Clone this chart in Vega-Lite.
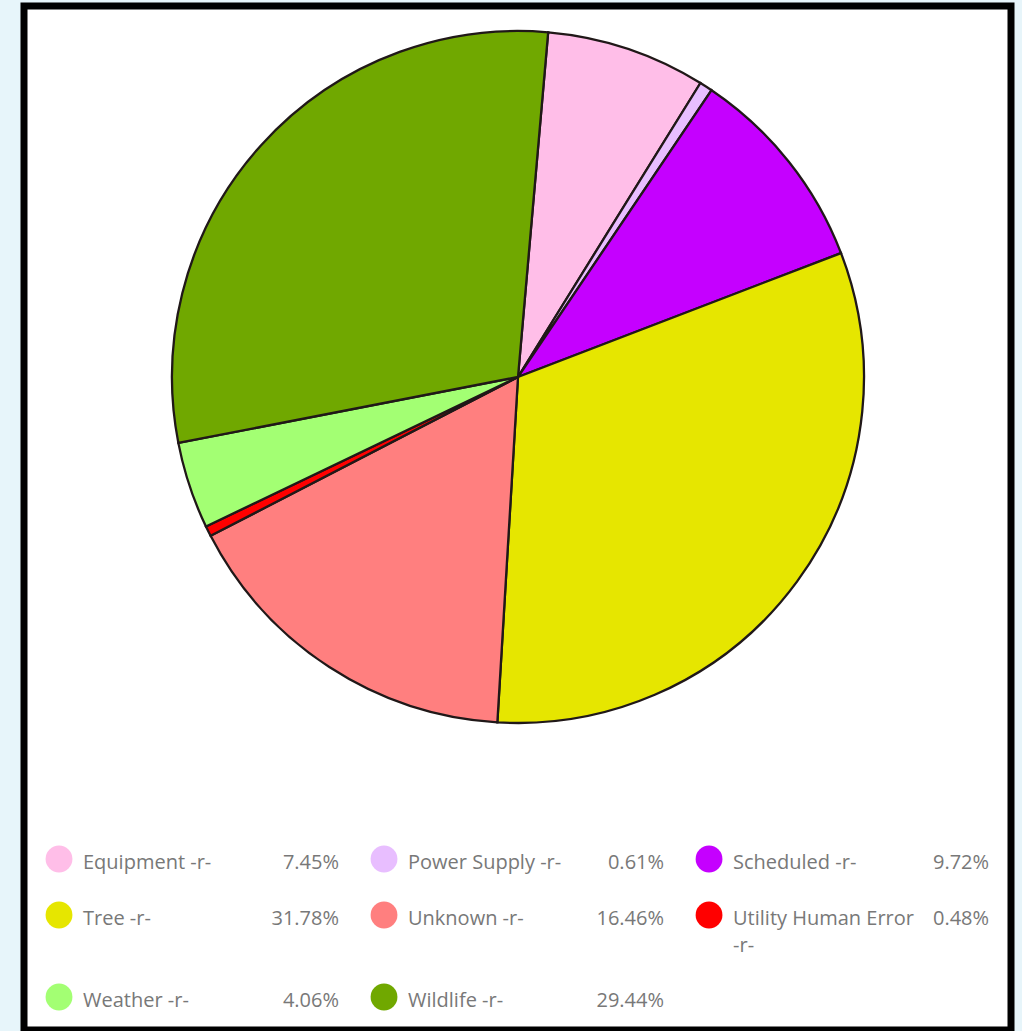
{
  "$schema": "https://vega.github.io/schema/vega-lite/v6.json",
  "width": 1022,
  "height": 1031,
  "autosize": {"type": "fit", "contains": "padding"},
  "padding": {"left": 24, "top": 6, "right": 11, "bottom": 1},
  "background": "#e7f5fa",
  "config": {"view": {"stroke": "#000000", "strokeWidth": 7, "fill": "#ffffff"}},
  "data": {"values": [
    {"i": 0, "cause": "Equipment -r-", "share": 0.0745},
    {"i": 1, "cause": "Power Supply -r-", "share": 0.0061},
    {"i": 2, "cause": "Scheduled -r-", "share": 0.0972},
    {"i": 3, "cause": "Tree -r-", "share": 0.3178},
    {"i": 4, "cause": "Unknown -r-", "share": 0.1646},
    {"i": 5, "cause": "Utility Human Error -r-", "share": 0.0048},
    {"i": 6, "cause": "Weather -r-", "share": 0.0406},
    {"i": 7, "cause": "Wildlife -r-", "share": 0.2944}
  ]},
  "layer": [
    {
      "mark": {"type": "arc", "radius": 346, "stroke": "#201818", "strokeWidth": 2.3},
      "encoding": {
        "theta": {"field": "share", "type": "quantitative", "stack": true, "scale": {"range": [0.0873, 6.3705]}},
        "order": {"field": "i", "type": "quantitative"},
        "color": {
          "field": "cause", "type": "nominal", "legend": null,
          "scale": {
            "domain": ["Equipment -r-", "Power Supply -r-", "Scheduled -r-", "Tree -r-", "Unknown -r-", "Utility Human Error -r-", "Weather -r-", "Wildlife -r-"],
            "range": ["#ffbee8", "#e8beff", "#c500ff", "#e6e600", "#ff7f7f", "#ff0000", "#a3ff73", "#70a800"]
          }
        },
        "x": {"datum": 50.05, "type": "quantitative", "scale": {"domain": [0, 100], "nice": false, "zero": false}, "axis": null},
        "y": {"datum": 36.23, "type": "quantitative", "scale": {"domain": [0, 100], "nice": false, "zero": false, "reverse": true}, "axis": null}
      }
    },
    {
      "transform": [
        {"calculate": "datum.i % 3", "as": "col"},
        {"calculate": "floor(datum.i / 3)", "as": "row"},
        {"calculate": "3.546 + 32.93 * datum.col", "as": "cx"},
        {"calculate": "83.30 + 5.47 * datum.row + (datum.row >= 2 ? 2.54 : 0)", "as": "cy"}
      ],
      "mark": {"type": "point", "shape": "circle", "filled": true, "size": 720, "opacity": 1},
      "encoding": {
        "x": {"field": "cx", "type": "quantitative", "axis": null},
        "y": {"field": "cy", "type": "quantitative", "axis": null},
        "color": {"field": "cause", "type": "nominal", "legend": null}
      }
    },
    {
      "transform": [
        {"calculate": "datum.i % 3", "as": "col"},
        {"calculate": "floor(datum.i / 3)", "as": "row"},
        {"calculate": "3.546 + 32.93 * datum.col + 2.43", "as": "tx"},
        {"calculate": "83.30 + 5.47 * datum.row + (datum.row >= 2 ? 2.54 : 0)", "as": "cy"},
        {"calculate": "length(datum.cause) > 20 ? replace(datum.cause, ' -r-', '\\n-r-') : datum.cause", "as": "label"}
      ],
      "mark": {"type": "text", "align": "left", "baseline": "alphabetic", "dy": 10, "font": "Open Sans", "fontSize": 20, "color": "#787878", "lineBreak": "\n", "lineHeight": 27},
      "encoding": {
        "x": {"field": "tx", "type": "quantitative", "axis": null},
        "y": {"field": "cy", "type": "quantitative", "axis": null},
        "text": {"field": "label", "type": "nominal"}
      }
    },
    {
      "transform": [
        {"calculate": "datum.i % 3", "as": "col"},
        {"calculate": "floor(datum.i / 3)", "as": "row"},
        {"calculate": "3.546 + 32.93 * datum.col + 28.37", "as": "px"},
        {"calculate": "83.30 + 5.47 * datum.row + (datum.row >= 2 ? 2.54 : 0)", "as": "cy"}
      ],
      "mark": {"type": "text", "align": "right", "baseline": "alphabetic", "dy": 10, "font": "Open Sans", "fontSize": 20, "color": "#787878"},
      "encoding": {
        "x": {"field": "px", "type": "quantitative", "axis": null},
        "y": {"field": "cy", "type": "quantitative", "axis": null},
        "text": {"field": "share", "type": "quantitative", "format": ".2%"}
      }
    }
  ]
}
